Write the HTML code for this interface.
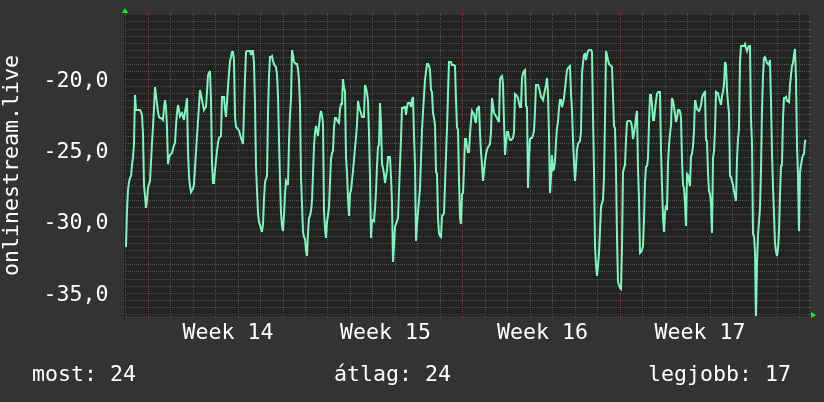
<!DOCTYPE html>
<html><head><meta charset="utf-8"><style>
html,body{margin:0;padding:0;background:#333333;}
svg{display:block;}
text{font-family:"DejaVu Sans Mono","Liberation Mono",monospace;font-size:21.6px;fill:#ffffff;}
line{shape-rendering:crispEdges;stroke-width:1px;}
</style></head><body>
<svg width="824" height="402" viewBox="0 0 824 402">
<rect width="824" height="402" fill="#333333"/>
<rect x="125" y="15" width="684" height="301" fill="#222222"/>
<rect x="121" y="315" width="691" height="1" fill="#1f1f1f"/>
<rect x="124" y="13" width="1" height="307" fill="#1f1f1f"/>
<line x1="126" y1="21.5" x2="809" y2="21.5" stroke="#505050" stroke-dasharray="1 1"/>
<rect x="123" y="21" width="1" height="1" fill="#505050"/>
<rect x="809" y="21" width="2" height="1" fill="#505050"/>
<line x1="126" y1="29.5" x2="809" y2="29.5" stroke="#505050" stroke-dasharray="1 1"/>
<rect x="123" y="29" width="1" height="1" fill="#505050"/>
<rect x="809" y="29" width="2" height="1" fill="#505050"/>
<line x1="126" y1="36.5" x2="809" y2="36.5" stroke="#505050" stroke-dasharray="1 1"/>
<rect x="123" y="36" width="1" height="1" fill="#505050"/>
<rect x="809" y="36" width="2" height="1" fill="#505050"/>
<line x1="126" y1="43.5" x2="809" y2="43.5" stroke="#505050" stroke-dasharray="1 1"/>
<rect x="123" y="43" width="1" height="1" fill="#505050"/>
<rect x="809" y="43" width="2" height="1" fill="#505050"/>
<line x1="126" y1="50.5" x2="809" y2="50.5" stroke="#505050" stroke-dasharray="1 1"/>
<rect x="123" y="50" width="1" height="1" fill="#505050"/>
<rect x="809" y="50" width="2" height="1" fill="#505050"/>
<line x1="126" y1="57.5" x2="809" y2="57.5" stroke="#505050" stroke-dasharray="1 1"/>
<rect x="123" y="57" width="1" height="1" fill="#505050"/>
<rect x="809" y="57" width="2" height="1" fill="#505050"/>
<line x1="126" y1="64.5" x2="809" y2="64.5" stroke="#505050" stroke-dasharray="1 1"/>
<rect x="123" y="64" width="1" height="1" fill="#505050"/>
<rect x="809" y="64" width="2" height="1" fill="#505050"/>
<line x1="126" y1="71.5" x2="809" y2="71.5" stroke="#505050" stroke-dasharray="1 1"/>
<rect x="123" y="71" width="1" height="1" fill="#505050"/>
<rect x="809" y="71" width="2" height="1" fill="#505050"/>
<line x1="126" y1="86.5" x2="809" y2="86.5" stroke="#505050" stroke-dasharray="1 1"/>
<rect x="123" y="86" width="1" height="1" fill="#505050"/>
<rect x="809" y="86" width="2" height="1" fill="#505050"/>
<line x1="126" y1="93.5" x2="809" y2="93.5" stroke="#505050" stroke-dasharray="1 1"/>
<rect x="123" y="93" width="1" height="1" fill="#505050"/>
<rect x="809" y="93" width="2" height="1" fill="#505050"/>
<line x1="126" y1="100.5" x2="809" y2="100.5" stroke="#505050" stroke-dasharray="1 1"/>
<rect x="123" y="100" width="1" height="1" fill="#505050"/>
<rect x="809" y="100" width="2" height="1" fill="#505050"/>
<line x1="126" y1="107.5" x2="809" y2="107.5" stroke="#505050" stroke-dasharray="1 1"/>
<rect x="123" y="107" width="1" height="1" fill="#505050"/>
<rect x="809" y="107" width="2" height="1" fill="#505050"/>
<line x1="126" y1="114.5" x2="809" y2="114.5" stroke="#505050" stroke-dasharray="1 1"/>
<rect x="123" y="114" width="1" height="1" fill="#505050"/>
<rect x="809" y="114" width="2" height="1" fill="#505050"/>
<line x1="126" y1="121.5" x2="809" y2="121.5" stroke="#505050" stroke-dasharray="1 1"/>
<rect x="123" y="121" width="1" height="1" fill="#505050"/>
<rect x="809" y="121" width="2" height="1" fill="#505050"/>
<line x1="126" y1="129.5" x2="809" y2="129.5" stroke="#505050" stroke-dasharray="1 1"/>
<rect x="123" y="129" width="1" height="1" fill="#505050"/>
<rect x="809" y="129" width="2" height="1" fill="#505050"/>
<line x1="126" y1="136.5" x2="809" y2="136.5" stroke="#505050" stroke-dasharray="1 1"/>
<rect x="123" y="136" width="1" height="1" fill="#505050"/>
<rect x="809" y="136" width="2" height="1" fill="#505050"/>
<line x1="126" y1="143.5" x2="809" y2="143.5" stroke="#505050" stroke-dasharray="1 1"/>
<rect x="123" y="143" width="1" height="1" fill="#505050"/>
<rect x="809" y="143" width="2" height="1" fill="#505050"/>
<line x1="126" y1="157.5" x2="809" y2="157.5" stroke="#505050" stroke-dasharray="1 1"/>
<rect x="123" y="157" width="1" height="1" fill="#505050"/>
<rect x="809" y="157" width="2" height="1" fill="#505050"/>
<line x1="126" y1="164.5" x2="809" y2="164.5" stroke="#505050" stroke-dasharray="1 1"/>
<rect x="123" y="164" width="1" height="1" fill="#505050"/>
<rect x="809" y="164" width="2" height="1" fill="#505050"/>
<line x1="126" y1="171.5" x2="809" y2="171.5" stroke="#505050" stroke-dasharray="1 1"/>
<rect x="123" y="171" width="1" height="1" fill="#505050"/>
<rect x="809" y="171" width="2" height="1" fill="#505050"/>
<line x1="126" y1="179.5" x2="809" y2="179.5" stroke="#505050" stroke-dasharray="1 1"/>
<rect x="123" y="179" width="1" height="1" fill="#505050"/>
<rect x="809" y="179" width="2" height="1" fill="#505050"/>
<line x1="126" y1="186.5" x2="809" y2="186.5" stroke="#505050" stroke-dasharray="1 1"/>
<rect x="123" y="186" width="1" height="1" fill="#505050"/>
<rect x="809" y="186" width="2" height="1" fill="#505050"/>
<line x1="126" y1="193.5" x2="809" y2="193.5" stroke="#505050" stroke-dasharray="1 1"/>
<rect x="123" y="193" width="1" height="1" fill="#505050"/>
<rect x="809" y="193" width="2" height="1" fill="#505050"/>
<line x1="126" y1="200.5" x2="809" y2="200.5" stroke="#505050" stroke-dasharray="1 1"/>
<rect x="123" y="200" width="1" height="1" fill="#505050"/>
<rect x="809" y="200" width="2" height="1" fill="#505050"/>
<line x1="126" y1="207.5" x2="809" y2="207.5" stroke="#505050" stroke-dasharray="1 1"/>
<rect x="123" y="207" width="1" height="1" fill="#505050"/>
<rect x="809" y="207" width="2" height="1" fill="#505050"/>
<line x1="126" y1="214.5" x2="809" y2="214.5" stroke="#505050" stroke-dasharray="1 1"/>
<rect x="123" y="214" width="1" height="1" fill="#505050"/>
<rect x="809" y="214" width="2" height="1" fill="#505050"/>
<line x1="126" y1="229.5" x2="809" y2="229.5" stroke="#505050" stroke-dasharray="1 1"/>
<rect x="123" y="229" width="1" height="1" fill="#505050"/>
<rect x="809" y="229" width="2" height="1" fill="#505050"/>
<line x1="126" y1="236.5" x2="809" y2="236.5" stroke="#505050" stroke-dasharray="1 1"/>
<rect x="123" y="236" width="1" height="1" fill="#505050"/>
<rect x="809" y="236" width="2" height="1" fill="#505050"/>
<line x1="126" y1="243.5" x2="809" y2="243.5" stroke="#505050" stroke-dasharray="1 1"/>
<rect x="123" y="243" width="1" height="1" fill="#505050"/>
<rect x="809" y="243" width="2" height="1" fill="#505050"/>
<line x1="126" y1="250.5" x2="809" y2="250.5" stroke="#505050" stroke-dasharray="1 1"/>
<rect x="123" y="250" width="1" height="1" fill="#505050"/>
<rect x="809" y="250" width="2" height="1" fill="#505050"/>
<line x1="126" y1="257.5" x2="809" y2="257.5" stroke="#505050" stroke-dasharray="1 1"/>
<rect x="123" y="257" width="1" height="1" fill="#505050"/>
<rect x="809" y="257" width="2" height="1" fill="#505050"/>
<line x1="126" y1="264.5" x2="809" y2="264.5" stroke="#505050" stroke-dasharray="1 1"/>
<rect x="123" y="264" width="1" height="1" fill="#505050"/>
<rect x="809" y="264" width="2" height="1" fill="#505050"/>
<line x1="126" y1="271.5" x2="809" y2="271.5" stroke="#505050" stroke-dasharray="1 1"/>
<rect x="123" y="271" width="1" height="1" fill="#505050"/>
<rect x="809" y="271" width="2" height="1" fill="#505050"/>
<line x1="126" y1="279.5" x2="809" y2="279.5" stroke="#505050" stroke-dasharray="1 1"/>
<rect x="123" y="279" width="1" height="1" fill="#505050"/>
<rect x="809" y="279" width="2" height="1" fill="#505050"/>
<line x1="126" y1="286.5" x2="809" y2="286.5" stroke="#505050" stroke-dasharray="1 1"/>
<rect x="123" y="286" width="1" height="1" fill="#505050"/>
<rect x="809" y="286" width="2" height="1" fill="#505050"/>
<line x1="126" y1="300.5" x2="809" y2="300.5" stroke="#505050" stroke-dasharray="1 1"/>
<rect x="123" y="300" width="1" height="1" fill="#505050"/>
<rect x="809" y="300" width="2" height="1" fill="#505050"/>
<line x1="126" y1="307.5" x2="809" y2="307.5" stroke="#505050" stroke-dasharray="1 1"/>
<rect x="123" y="307" width="1" height="1" fill="#505050"/>
<rect x="809" y="307" width="2" height="1" fill="#505050"/>
<line x1="126" y1="314.5" x2="809" y2="314.5" stroke="#505050" stroke-dasharray="1 1"/>
<rect x="123" y="314" width="1" height="1" fill="#505050"/>
<rect x="809" y="314" width="2" height="1" fill="#505050"/>
<line x1="125.5" y1="15" x2="125.5" y2="315" stroke="#505050" stroke-dasharray="1 1"/>
<rect x="125" y="13" width="1" height="2" fill="#505050"/>
<rect x="125" y="316" width="1" height="2" fill="#505050"/>
<line x1="170.5" y1="15" x2="170.5" y2="315" stroke="#505050" stroke-dasharray="1 1"/>
<rect x="170" y="13" width="1" height="2" fill="#505050"/>
<rect x="170" y="316" width="1" height="2" fill="#505050"/>
<line x1="193.5" y1="15" x2="193.5" y2="315" stroke="#505050" stroke-dasharray="1 1"/>
<rect x="193" y="13" width="1" height="2" fill="#505050"/>
<rect x="193" y="316" width="1" height="2" fill="#505050"/>
<line x1="215.5" y1="15" x2="215.5" y2="315" stroke="#505050" stroke-dasharray="1 1"/>
<rect x="215" y="13" width="1" height="2" fill="#505050"/>
<rect x="215" y="316" width="1" height="2" fill="#505050"/>
<line x1="238.5" y1="15" x2="238.5" y2="315" stroke="#505050" stroke-dasharray="1 1"/>
<rect x="238" y="13" width="1" height="2" fill="#505050"/>
<rect x="238" y="316" width="1" height="2" fill="#505050"/>
<line x1="260.5" y1="15" x2="260.5" y2="315" stroke="#505050" stroke-dasharray="1 1"/>
<rect x="260" y="13" width="1" height="2" fill="#505050"/>
<rect x="260" y="316" width="1" height="2" fill="#505050"/>
<line x1="283.5" y1="15" x2="283.5" y2="315" stroke="#505050" stroke-dasharray="1 1"/>
<rect x="283" y="13" width="1" height="2" fill="#505050"/>
<rect x="283" y="316" width="1" height="2" fill="#505050"/>
<line x1="327.5" y1="15" x2="327.5" y2="315" stroke="#505050" stroke-dasharray="1 1"/>
<rect x="327" y="13" width="1" height="2" fill="#505050"/>
<rect x="327" y="316" width="1" height="2" fill="#505050"/>
<line x1="350.5" y1="15" x2="350.5" y2="315" stroke="#505050" stroke-dasharray="1 1"/>
<rect x="350" y="13" width="1" height="2" fill="#505050"/>
<rect x="350" y="316" width="1" height="2" fill="#505050"/>
<line x1="372.5" y1="15" x2="372.5" y2="315" stroke="#505050" stroke-dasharray="1 1"/>
<rect x="372" y="13" width="1" height="2" fill="#505050"/>
<rect x="372" y="316" width="1" height="2" fill="#505050"/>
<line x1="395.5" y1="15" x2="395.5" y2="315" stroke="#505050" stroke-dasharray="1 1"/>
<rect x="395" y="13" width="1" height="2" fill="#505050"/>
<rect x="395" y="316" width="1" height="2" fill="#505050"/>
<line x1="417.5" y1="15" x2="417.5" y2="315" stroke="#505050" stroke-dasharray="1 1"/>
<rect x="417" y="13" width="1" height="2" fill="#505050"/>
<rect x="417" y="316" width="1" height="2" fill="#505050"/>
<line x1="440.5" y1="15" x2="440.5" y2="315" stroke="#505050" stroke-dasharray="1 1"/>
<rect x="440" y="13" width="1" height="2" fill="#505050"/>
<rect x="440" y="316" width="1" height="2" fill="#505050"/>
<line x1="485.5" y1="15" x2="485.5" y2="315" stroke="#505050" stroke-dasharray="1 1"/>
<rect x="485" y="13" width="1" height="2" fill="#505050"/>
<rect x="485" y="316" width="1" height="2" fill="#505050"/>
<line x1="507.5" y1="15" x2="507.5" y2="315" stroke="#505050" stroke-dasharray="1 1"/>
<rect x="507" y="13" width="1" height="2" fill="#505050"/>
<rect x="507" y="316" width="1" height="2" fill="#505050"/>
<line x1="530.5" y1="15" x2="530.5" y2="315" stroke="#505050" stroke-dasharray="1 1"/>
<rect x="530" y="13" width="1" height="2" fill="#505050"/>
<rect x="530" y="316" width="1" height="2" fill="#505050"/>
<line x1="552.5" y1="15" x2="552.5" y2="315" stroke="#505050" stroke-dasharray="1 1"/>
<rect x="552" y="13" width="1" height="2" fill="#505050"/>
<rect x="552" y="316" width="1" height="2" fill="#505050"/>
<line x1="575.5" y1="15" x2="575.5" y2="315" stroke="#505050" stroke-dasharray="1 1"/>
<rect x="575" y="13" width="1" height="2" fill="#505050"/>
<rect x="575" y="316" width="1" height="2" fill="#505050"/>
<line x1="597.5" y1="15" x2="597.5" y2="315" stroke="#505050" stroke-dasharray="1 1"/>
<rect x="597" y="13" width="1" height="2" fill="#505050"/>
<rect x="597" y="316" width="1" height="2" fill="#505050"/>
<line x1="642.5" y1="15" x2="642.5" y2="315" stroke="#505050" stroke-dasharray="1 1"/>
<rect x="642" y="13" width="1" height="2" fill="#505050"/>
<rect x="642" y="316" width="1" height="2" fill="#505050"/>
<line x1="665.5" y1="15" x2="665.5" y2="315" stroke="#505050" stroke-dasharray="1 1"/>
<rect x="665" y="13" width="1" height="2" fill="#505050"/>
<rect x="665" y="316" width="1" height="2" fill="#505050"/>
<line x1="687.5" y1="15" x2="687.5" y2="315" stroke="#505050" stroke-dasharray="1 1"/>
<rect x="687" y="13" width="1" height="2" fill="#505050"/>
<rect x="687" y="316" width="1" height="2" fill="#505050"/>
<line x1="710.5" y1="15" x2="710.5" y2="315" stroke="#505050" stroke-dasharray="1 1"/>
<rect x="710" y="13" width="1" height="2" fill="#505050"/>
<rect x="710" y="316" width="1" height="2" fill="#505050"/>
<line x1="732.5" y1="15" x2="732.5" y2="315" stroke="#505050" stroke-dasharray="1 1"/>
<rect x="732" y="13" width="1" height="2" fill="#505050"/>
<rect x="732" y="316" width="1" height="2" fill="#505050"/>
<line x1="754.5" y1="15" x2="754.5" y2="315" stroke="#505050" stroke-dasharray="1 1"/>
<rect x="754" y="13" width="1" height="2" fill="#505050"/>
<rect x="754" y="316" width="1" height="2" fill="#505050"/>
<line x1="799.5" y1="15" x2="799.5" y2="315" stroke="#505050" stroke-dasharray="1 1"/>
<rect x="799" y="13" width="1" height="2" fill="#505050"/>
<rect x="799" y="316" width="1" height="2" fill="#505050"/>
<line x1="125" y1="79.5" x2="809" y2="79.5" stroke="#863838" stroke-dasharray="1 1"/>
<rect x="123" y="79" width="1" height="1" fill="#863838"/>
<rect x="809" y="79" width="2" height="1" fill="#863838"/>
<line x1="125" y1="150.5" x2="809" y2="150.5" stroke="#863838" stroke-dasharray="1 1"/>
<rect x="123" y="150" width="1" height="1" fill="#863838"/>
<rect x="809" y="150" width="2" height="1" fill="#863838"/>
<line x1="125" y1="221.5" x2="809" y2="221.5" stroke="#863838" stroke-dasharray="1 1"/>
<rect x="123" y="221" width="1" height="1" fill="#863838"/>
<rect x="809" y="221" width="2" height="1" fill="#863838"/>
<line x1="125" y1="293.5" x2="809" y2="293.5" stroke="#863838" stroke-dasharray="1 1"/>
<rect x="123" y="293" width="1" height="1" fill="#863838"/>
<rect x="809" y="293" width="2" height="1" fill="#863838"/>
<line x1="148.5" y1="15" x2="148.5" y2="315" stroke="#863838" stroke-dasharray="1 1"/>
<rect x="148" y="13" width="1" height="2" fill="#863838"/>
<rect x="148" y="316" width="1" height="2" fill="#863838"/>
<line x1="305.5" y1="15" x2="305.5" y2="315" stroke="#863838" stroke-dasharray="1 1"/>
<rect x="305" y="13" width="1" height="2" fill="#863838"/>
<rect x="305" y="316" width="1" height="2" fill="#863838"/>
<line x1="462.5" y1="15" x2="462.5" y2="315" stroke="#863838" stroke-dasharray="1 1"/>
<rect x="462" y="13" width="1" height="2" fill="#863838"/>
<rect x="462" y="316" width="1" height="2" fill="#863838"/>
<line x1="620.5" y1="15" x2="620.5" y2="315" stroke="#863838" stroke-dasharray="1 1"/>
<rect x="620" y="13" width="1" height="2" fill="#863838"/>
<rect x="620" y="316" width="1" height="2" fill="#863838"/>
<line x1="777.5" y1="15" x2="777.5" y2="315" stroke="#863838" stroke-dasharray="1 1"/>
<rect x="777" y="13" width="1" height="2" fill="#863838"/>
<rect x="777" y="316" width="1" height="2" fill="#863838"/>
<polygon points="122,13 128,13 125,8" fill="#00ff00"/>
<polygon points="811,312 811,318 816,315" fill="#00ff00"/>
<path d="M126.0 247.0 L127.0 210.0 L128.0 190.0 L129.0 182.0 L130.0 178.0 L131.0 176.0 L132.0 165.0 L133.0 157.0 L134.0 144.0 L135.0 95.0 L136.0 110.0 L137.0 110.0 L138.0 110.0 L139.0 110.0 L140.0 110.0 L141.0 112.0 L142.0 115.0 L143.0 134.0 L144.0 185.0 L145.0 196.0 L146.0 208.0 L147.0 200.0 L148.0 188.0 L149.0 184.0 L150.0 181.0 L151.0 162.0 L152.0 143.0 L153.0 127.0 L154.0 108.0 L155.0 87.0 L156.0 95.0 L157.0 104.0 L158.0 112.0 L159.0 117.0 L160.0 118.0 L161.0 118.0 L162.0 119.0 L163.0 120.0 L164.0 108.0 L165.0 100.0 L166.0 107.0 L167.0 128.0 L168.0 164.0 L169.0 158.0 L170.0 155.0 L171.0 154.0 L172.0 153.0 L173.0 149.0 L174.0 145.0 L175.0 143.0 L176.0 126.0 L177.0 113.0 L178.0 105.0 L179.0 110.0 L180.0 116.0 L181.0 114.0 L182.0 113.0 L183.0 117.0 L184.0 120.0 L185.0 112.0 L186.0 106.0 L187.0 98.0 L188.0 152.0 L189.0 177.0 L190.0 186.0 L191.0 192.0 L192.0 190.0 L193.0 189.0 L194.0 184.0 L195.0 168.0 L196.0 152.0 L197.0 136.0 L198.0 121.0 L199.0 105.0 L200.0 90.0 L201.0 95.0 L202.0 100.0 L203.0 105.0 L204.0 110.0 L205.0 108.0 L206.0 107.0 L207.0 92.0 L208.0 75.0 L209.0 73.0 L210.0 71.0 L211.0 100.0 L212.0 163.0 L213.0 183.0 L214.0 183.0 L215.0 170.0 L216.0 160.0 L217.0 151.0 L218.0 143.0 L219.0 138.0 L220.0 137.0 L221.0 136.0 L222.0 97.0 L223.0 97.0 L224.0 97.0 L225.0 109.0 L226.0 117.0 L227.0 102.0 L228.0 87.0 L229.0 73.0 L230.0 61.0 L231.0 57.0 L232.0 52.0 L233.0 52.0 L234.0 60.0 L235.0 116.0 L236.0 127.0 L237.0 128.0 L238.0 129.0 L239.0 131.0 L240.0 134.0 L241.0 138.0 L242.0 141.0 L243.0 144.0 L244.0 110.0 L245.0 78.0 L246.0 52.0 L247.0 51.0 L248.0 51.0 L249.0 51.0 L250.0 51.0 L251.0 55.0 L252.0 51.0 L253.0 51.0 L254.0 63.0 L255.0 103.0 L256.0 167.0 L257.0 190.0 L258.0 213.0 L259.0 222.0 L260.0 225.0 L261.0 229.0 L262.0 232.0 L263.0 224.0 L264.0 199.0 L265.0 182.0 L266.0 179.0 L267.0 176.0 L268.0 113.0 L269.0 76.0 L270.0 57.0 L271.0 57.0 L272.0 56.0 L273.0 61.0 L274.0 64.0 L275.0 66.0 L276.0 67.0 L277.0 75.0 L278.0 95.0 L279.0 139.0 L280.0 180.0 L281.0 213.0 L282.0 226.0 L283.0 231.0 L284.0 215.0 L285.0 195.0 L286.0 181.0 L287.0 183.0 L288.0 185.0 L289.0 142.0 L290.0 115.0 L291.0 99.0 L292.0 50.0 L293.0 55.0 L294.0 62.0 L295.0 63.0 L296.0 64.0 L297.0 64.0 L298.0 69.0 L299.0 80.0 L300.0 105.0 L301.0 178.0 L302.0 204.0 L303.0 232.0 L304.0 237.0 L305.0 239.0 L306.0 250.0 L307.0 256.0 L308.0 233.0 L309.0 218.0 L310.0 216.0 L311.0 211.0 L312.0 201.0 L313.0 174.0 L314.0 146.0 L315.0 133.0 L316.0 126.0 L317.0 131.0 L318.0 136.0 L319.0 126.0 L320.0 116.0 L321.0 111.0 L322.0 115.0 L323.0 124.0 L324.0 210.0 L325.0 229.0 L326.0 238.0 L327.0 222.0 L328.0 215.0 L329.0 207.0 L330.0 182.0 L331.0 159.0 L332.0 153.0 L333.0 151.0 L334.0 128.0 L335.0 118.0 L336.0 118.0 L337.0 120.0 L338.0 122.0 L339.0 123.0 L340.0 109.0 L341.0 104.0 L342.0 104.0 L343.0 79.0 L344.0 88.0 L345.0 91.0 L346.0 157.0 L347.0 173.0 L348.0 198.0 L349.0 216.0 L350.0 194.0 L351.0 190.0 L352.0 181.0 L353.0 171.0 L354.0 160.0 L355.0 148.0 L356.0 138.0 L357.0 124.0 L358.0 101.0 L359.0 106.0 L360.0 110.0 L361.0 113.0 L362.0 117.0 L363.0 117.0 L364.0 117.0 L365.0 85.0 L366.0 88.0 L367.0 93.0 L368.0 101.0 L369.0 133.0 L370.0 177.0 L371.0 238.0 L372.0 220.0 L373.0 220.0 L374.0 221.0 L375.0 208.0 L376.0 192.0 L377.0 166.0 L378.0 147.0 L379.0 145.0 L380.0 103.0 L381.0 122.0 L382.0 164.0 L383.0 168.0 L384.0 174.0 L385.0 183.0 L386.0 177.0 L387.0 170.0 L388.0 157.0 L389.0 157.0 L390.0 157.0 L391.0 177.0 L392.0 202.0 L393.0 262.0 L394.0 245.0 L395.0 227.0 L396.0 224.0 L397.0 221.0 L398.0 218.0 L399.0 191.0 L400.0 165.0 L401.0 139.0 L402.0 108.0 L403.0 108.0 L404.0 107.0 L405.0 107.0 L406.0 115.0 L407.0 107.0 L408.0 103.0 L409.0 103.0 L410.0 103.0 L411.0 107.0 L412.0 100.0 L413.0 97.0 L414.0 135.0 L415.0 165.0 L416.0 241.0 L417.0 225.0 L418.0 212.0 L419.0 200.0 L420.0 188.0 L421.0 159.0 L422.0 130.0 L423.0 112.0 L424.0 96.0 L425.0 80.0 L426.0 72.0 L427.0 64.0 L428.0 64.0 L429.0 66.0 L430.0 70.0 L431.0 90.0 L432.0 92.0 L433.0 113.0 L434.0 118.0 L435.0 125.0 L436.0 172.0 L437.0 174.0 L438.0 218.0 L439.0 233.0 L440.0 236.0 L441.0 237.0 L442.0 216.0 L443.0 215.0 L444.0 213.0 L445.0 185.0 L446.0 155.0 L447.0 129.0 L448.0 94.0 L449.0 62.0 L450.0 62.0 L451.0 62.0 L452.0 65.0 L453.0 65.0 L454.0 65.0 L455.0 66.0 L456.0 100.0 L457.0 127.0 L458.0 130.0 L459.0 180.0 L460.0 218.0 L461.0 224.0 L462.0 194.0 L463.0 193.0 L464.0 169.0 L465.0 139.0 L466.0 139.0 L467.0 147.0 L468.0 152.0 L469.0 152.0 L470.0 134.0 L471.0 121.0 L472.0 111.0 L473.0 113.0 L474.0 114.0 L475.0 120.0 L476.0 123.0 L477.0 109.0 L478.0 108.0 L479.0 106.0 L480.0 133.0 L481.0 152.0 L482.0 165.0 L483.0 181.0 L484.0 171.0 L485.0 162.0 L486.0 154.0 L487.0 150.0 L488.0 147.0 L489.0 146.0 L490.0 144.0 L491.0 132.0 L492.0 98.0 L493.0 105.0 L494.0 113.0 L495.0 115.0 L496.0 116.0 L497.0 118.0 L498.0 120.0 L499.0 122.0 L500.0 79.0 L501.0 77.0 L502.0 76.0 L503.0 84.0 L504.0 121.0 L505.0 155.0 L506.0 143.0 L507.0 132.0 L508.0 132.0 L509.0 137.0 L510.0 140.0 L511.0 140.0 L512.0 139.0 L513.0 138.0 L514.0 132.0 L515.0 94.0 L516.0 95.0 L517.0 96.0 L518.0 98.0 L519.0 103.0 L520.0 107.0 L521.0 107.0 L522.0 78.0 L523.0 73.0 L524.0 71.0 L525.0 70.0 L526.0 106.0 L527.0 107.0 L528.0 188.0 L529.0 159.0 L530.0 139.0 L531.0 138.0 L532.0 138.0 L533.0 135.0 L534.0 131.0 L535.0 111.0 L536.0 85.0 L537.0 85.0 L538.0 85.0 L539.0 88.0 L540.0 92.0 L541.0 97.0 L542.0 98.0 L543.0 100.0 L544.0 95.0 L545.0 90.0 L546.0 85.0 L547.0 78.0 L548.0 93.0 L549.0 136.0 L550.0 193.0 L551.0 178.0 L552.0 155.0 L553.0 170.0 L554.0 169.0 L555.0 161.0 L556.0 142.0 L557.0 128.0 L558.0 122.0 L559.0 108.0 L560.0 100.0 L561.0 100.0 L562.0 107.0 L563.0 103.0 L564.0 98.0 L565.0 89.0 L566.0 79.0 L567.0 70.0 L568.0 68.0 L569.0 67.0 L570.0 66.0 L571.0 94.0 L572.0 110.0 L573.0 140.0 L574.0 162.0 L575.0 181.0 L576.0 167.0 L577.0 150.0 L578.0 144.0 L579.0 142.0 L580.0 141.0 L581.0 132.0 L582.0 74.0 L583.0 63.0 L584.0 55.0 L585.0 54.0 L586.0 60.0 L587.0 55.0 L588.0 51.0 L589.0 50.0 L590.0 50.0 L591.0 50.0 L592.0 52.0 L593.0 117.0 L594.0 170.0 L595.0 246.0 L596.0 265.0 L597.0 276.0 L598.0 266.0 L599.0 253.0 L600.0 231.0 L601.0 207.0 L602.0 203.0 L603.0 200.0 L604.0 177.0 L605.0 120.0 L606.0 51.0 L607.0 55.0 L608.0 60.0 L609.0 64.0 L610.0 65.0 L611.0 66.0 L612.0 67.0 L613.0 96.0 L614.0 126.0 L615.0 128.0 L616.0 170.0 L617.0 237.0 L618.0 282.0 L619.0 285.0 L620.0 288.0 L621.0 289.0 L622.0 247.0 L623.0 172.0 L624.0 168.0 L625.0 165.0 L626.0 140.0 L627.0 122.0 L628.0 121.0 L629.0 121.0 L630.0 121.0 L631.0 122.0 L632.0 127.0 L633.0 139.0 L634.0 133.0 L635.0 127.0 L636.0 117.0 L637.0 111.0 L638.0 168.0 L639.0 200.0 L640.0 253.0 L641.0 252.0 L642.0 250.0 L643.0 246.0 L644.0 219.0 L645.0 182.0 L646.0 167.0 L647.0 166.0 L648.0 158.0 L649.0 123.0 L650.0 95.0 L651.0 95.0 L652.0 104.0 L653.0 120.0 L654.0 120.0 L655.0 110.0 L656.0 101.0 L657.0 94.0 L658.0 92.0 L659.0 92.0 L660.0 92.0 L661.0 151.0 L662.0 185.0 L663.0 217.0 L664.0 232.0 L665.0 213.0 L666.0 205.0 L667.0 210.0 L668.0 164.0 L669.0 145.0 L670.0 134.0 L671.0 125.0 L672.0 98.0 L673.0 101.0 L674.0 107.0 L675.0 114.0 L676.0 122.0 L677.0 118.0 L678.0 110.0 L679.0 110.0 L680.0 111.0 L681.0 118.0 L682.0 160.0 L683.0 185.0 L684.0 188.0 L685.0 204.0 L686.0 226.0 L687.0 174.0 L688.0 175.0 L689.0 181.0 L690.0 186.0 L691.0 156.0 L692.0 154.0 L693.0 146.0 L694.0 131.0 L695.0 100.0 L696.0 104.0 L697.0 109.0 L698.0 110.0 L699.0 111.0 L700.0 109.0 L701.0 105.0 L702.0 98.0 L703.0 95.0 L704.0 93.0 L705.0 92.0 L706.0 140.0 L707.0 141.0 L708.0 173.0 L709.0 191.0 L710.0 194.0 L711.0 204.0 L712.0 233.0 L713.0 158.0 L714.0 151.0 L715.0 130.0 L716.0 92.0 L717.0 93.0 L718.0 93.0 L719.0 98.0 L720.0 101.0 L721.0 105.0 L722.0 96.0 L723.0 92.0 L724.0 84.0 L725.0 62.0 L726.0 65.0 L727.0 90.0 L728.0 103.0 L729.0 113.0 L730.0 176.0 L731.0 177.0 L732.0 181.0 L733.0 185.0 L734.0 191.0 L735.0 196.0 L736.0 201.0 L737.0 159.0 L738.0 139.0 L739.0 129.0 L740.0 61.0 L741.0 46.0 L742.0 46.0 L743.0 46.0 L744.0 46.0 L745.0 44.0 L746.0 48.0 L747.0 51.0 L748.0 48.0 L749.0 46.0 L750.0 46.0 L751.0 120.0 L752.0 143.0 L753.0 234.0 L754.0 236.0 L755.0 251.0 L756.0 316.0 L757.0 264.0 L758.0 235.0 L759.0 222.0 L760.0 208.0 L761.0 170.0 L762.0 110.0 L763.0 76.0 L764.0 58.0 L765.0 57.0 L766.0 60.0 L767.0 63.0 L768.0 64.0 L769.0 65.0 L770.0 60.0 L771.0 102.0 L772.0 152.0 L773.0 188.0 L774.0 214.0 L775.0 243.0 L776.0 251.0 L777.0 256.0 L778.0 249.0 L779.0 232.0 L780.0 195.0 L781.0 166.0 L782.0 165.0 L783.0 118.0 L784.0 98.0 L785.0 98.0 L786.0 97.0 L787.0 101.0 L788.0 101.0 L789.0 102.0 L790.0 85.0 L791.0 75.0 L792.0 66.0 L793.0 63.0 L794.0 55.0 L795.0 49.0 L796.0 78.0 L797.0 146.0 L798.0 176.0 L799.0 231.0 L800.0 172.0 L801.0 165.0 L802.0 159.0 L803.0 155.0 L804.0 154.0 L805.0 141.0 L806.0 140.0" fill="none" stroke="#7df5c0" stroke-width="2" stroke-linejoin="miter" stroke-miterlimit="4" stroke-linecap="butt"/>
<text x="108.5" y="86.8" text-anchor="end">-20,0</text>
<text x="108.5" y="157.8" text-anchor="end">-25,0</text>
<text x="108.5" y="228.8" text-anchor="end">-30,0</text>
<text x="108.5" y="300.8" text-anchor="end">-35,0</text>
<text x="228.1" y="339" text-anchor="middle">Week 14</text>
<text x="385.4" y="339" text-anchor="middle">Week 15</text>
<text x="542.6" y="339" text-anchor="middle">Week 16</text>
<text x="699.9" y="339" text-anchor="middle">Week 17</text>
<text x="32" y="381">most: 24</text>
<text x="334" y="381">átlag: 24</text>
<text x="648" y="381">legjobb: 17</text>
<text transform="translate(18,276) rotate(-90)">onlinestream.live</text>
</svg>
</body></html>
